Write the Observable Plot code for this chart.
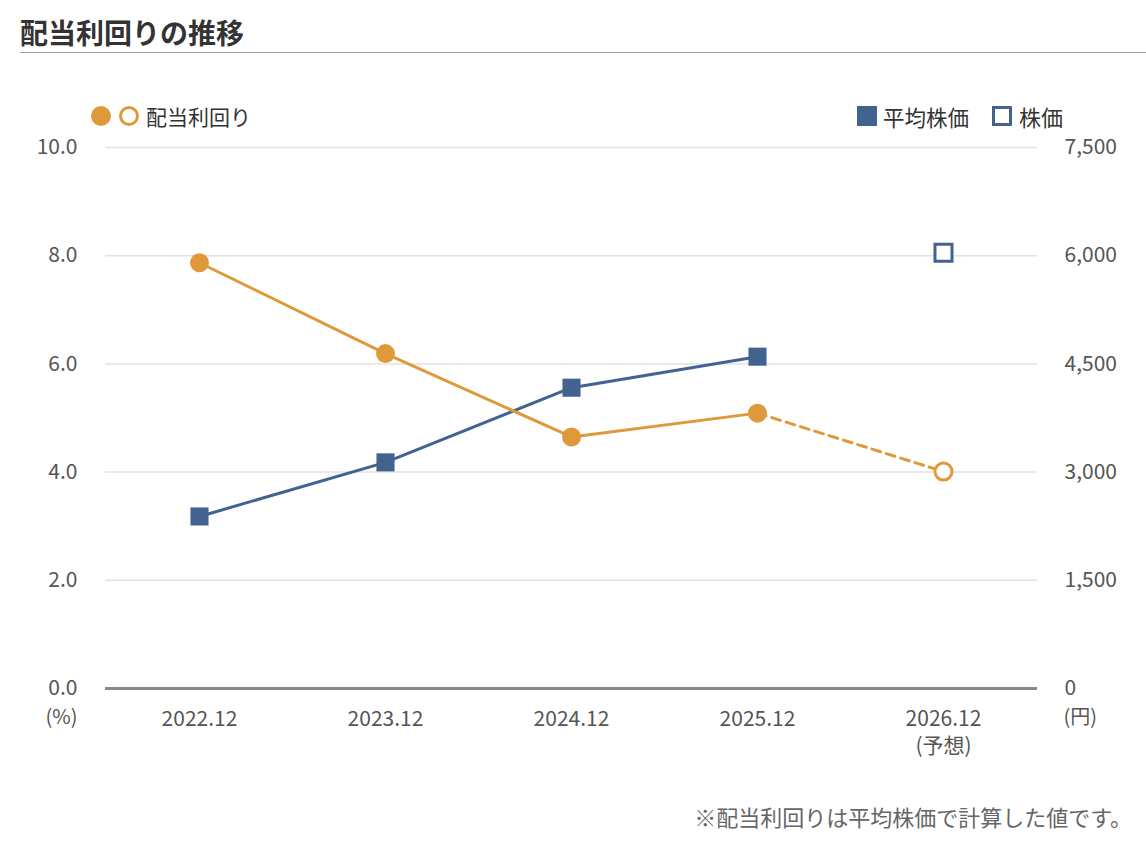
<!DOCTYPE html>
<html><head><meta charset="utf-8">
<script src="https://cdn.jsdelivr.net/npm/d3@7"></script>
<script src="https://cdn.jsdelivr.net/npm/@observablehq/plot@0.6"></script>
<style>
body{margin:0;background:#fff;font-family:"Noto Sans CJK JP","Noto Sans",sans-serif;}
#wrap{position:relative;width:1146px;height:844px;overflow:hidden;}
#title{position:absolute;left:20px;top:12px;font-size:28px;font-weight:bold;color:#333;line-height:40px;white-space:nowrap;}
#rule{position:absolute;left:20px;right:0;top:52px;height:0;border-top:1px solid #999;}
.leg{position:absolute;top:101px;height:30px;display:flex;align-items:center;font-size:21px;color:#333;white-space:nowrap;}
.ic{display:inline-block;box-sizing:border-box;}
#chart{position:absolute;left:0;top:131px;}
#note{position:absolute;right:14px;top:801px;font-size:22px;color:#666;line-height:30px;white-space:nowrap;}
</style></head><body>
<div id="wrap">
  <div id="title">配当利回りの推移</div>
  <div id="rule"></div>
  <div class="leg" style="left:91px;">
    <span class="ic" style="width:20px;height:20px;border-radius:50%;background:#E0993A;"></span>
    <span class="ic" style="width:20px;height:20px;border-radius:50%;border:3px solid #E0993A;background:#fff;margin-left:8px;"></span>
    <span style="margin-left:7px;">配当利回り</span>
  </div>
  <div class="leg" style="left:857px;">
    <span class="ic" style="width:20px;height:20px;background:#42628F;"></span>
    <span style="margin-left:6px;font-size:21.5px;">平均株価</span>
    <span class="ic" style="width:20px;height:20px;border:3px solid #42628F;background:#fff;margin-left:23px;"></span>
    <span style="margin-left:7px;font-size:22px;">株価</span>
  </div>
  <div id="chart"></div>
  <div id="note">※配当利回りは平均株価で計算した値です。</div>
</div>
<script>
// ---- data ----
const periods = ["2022.12", "2023.12", "2024.12", "2025.12", "2026.12"];
const periodLabels = ["2022.12", "2023.12", "2024.12", "2025.12", "2026.12\n(予想)"];
const yieldValues = [7.87, 6.19, 4.65, 5.09, 4.01];          // 配当利回り (%)
const yieldForecast = [false, false, false, false, true];
const avgPricePeriods = ["2022.12", "2023.12", "2024.12", "2025.12"];
const avgPrice = [2385, 3135, 4170, 4600];                   // 平均株価 (円)
const pricePeriods = ["2026.12"];
const price = [6040];                                        // 株価 (円)
const leftTicks = [0, 2, 4, 6, 8, 10];
const rightTicks = [0, 1500, 3000, 4500, 6000, 7500];
const rightMax = 7500, leftMax = 10;

const orange = "#E0993A", blue = "#42628F";
const k = rightMax / leftMax;

const yieldData = periods.map((p, i) => ({p, v: yieldValues[i], f: yieldForecast[i]}));
const actualYield = yieldData.filter(d => !d.f);
const lastActual = actualYield[actualYield.length - 1];
const dashedYield = [lastActual, ...yieldData.filter(d => d.f)];
const avgData = avgPricePeriods.map((p, i) => ({p, v: avgPrice[i] / k}));
const priceData = pricePeriods.map((p, i) => ({p, v: price[i] / k}));
const labelOf = new Map(periods.map((p, i) => [p, periodLabels[i]]));

const chart = Plot.plot({
  width: 1146,
  height: 630,
  marginLeft: 105,
  marginRight: 109,
  marginTop: 16,
  marginBottom: 73,
  style: {fontFamily: '"Noto Sans CJK JP","Noto Sans",sans-serif', fontSize: "21px", color: "#555", background: "#fff"},
  x: {type: "point", domain: periods, padding: 0.5},
  y: {domain: [0, leftMax]},
  marks: [
    Plot.gridY(leftTicks.filter(d => d > 0), {stroke: "#e2e2e2", strokeOpacity: 1, strokeWidth: 1.5}),
    Plot.ruleY([0], {stroke: "#888", strokeWidth: 3}),
    Plot.axisY(leftTicks, {anchor: "left", tickSize: 0, tickPadding: 28, tickFormat: d3.format(".1f"), label: null}),
    Plot.axisY(rightTicks.map(v => v / k), {anchor: "right", tickSize: 0, tickPadding: 27, tickFormat: d => d3.format(",")(Math.round(d * k)), label: null}),
    Plot.axisX({tickSize: 0, tickPadding: 18, tickFormat: d => labelOf.get(d), lineHeight: 1.3, label: null}),
    Plot.text(["(%)"], {frameAnchor: "bottom-left", lineAnchor: "middle", dx: -28, dy: 29, textAnchor: "end", fontSize: 20}),
    Plot.text(["(円)"], {frameAnchor: "bottom-right", lineAnchor: "middle", dx: 26, dy: 29, textAnchor: "start", fontSize: 20}),
    // 平均株価
    Plot.line(avgData, {x: "p", y: "v", stroke: blue, strokeWidth: 3}),
    Plot.dot(avgData, {x: "p", y: "v", symbol: "square", r: 10.2, fill: blue}),
    Plot.dot(priceData, {x: "p", y: "v", symbol: "square", r: 9.6, fill: "#fff", stroke: blue, strokeWidth: 3}),
    // 配当利回り
    Plot.line(actualYield, {x: "p", y: "v", stroke: orange, strokeWidth: 3}),
    Plot.line(dashedYield, {x: "p", y: "v", stroke: orange, strokeWidth: 3, strokeDasharray: "9,6"}),
    Plot.dot(actualYield, {x: "p", y: "v", r: 9.5, fill: orange}),
    Plot.dot(yieldData.filter(d => d.f), {x: "p", y: "v", r: 8.5, fill: "#fff", stroke: orange, strokeWidth: 3})
  ]
});
document.getElementById("chart").appendChild(chart);
</script>
</body></html>
